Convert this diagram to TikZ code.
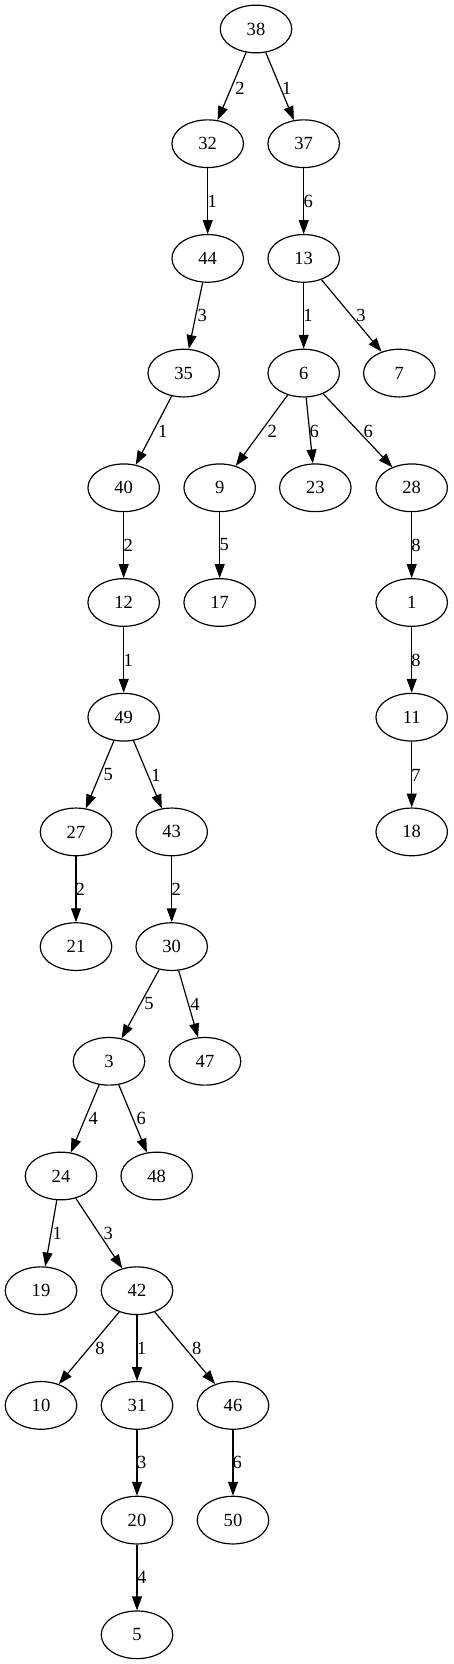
\documentclass[tikz,border=0pt]{standalone}
\usepackage{fontspec}
\setmainfont{Liberation Serif}
\usetikzlibrary{arrows.meta,shapes.geometric}
\begin{document}
\begin{tikzpicture}[x=0.755pt,y=-0.755pt,
  vert/.style={draw,ellipse,line width=0.9pt,minimum width=54pt,minimum height=36pt,inner sep=0pt,font=\fontsize{14}{16}\selectfont},
  wlab/.style={inner sep=0pt,font=\fontsize{14}{16}\selectfont},
  edge/.style={draw,line width=0.9pt,-{Triangle[length=10.5pt,width=7.5pt]}}]
\useasboundingbox (0,0) rectangle (453,1664);
\def\ra{29}\def\rb{143.7}\def\rc{258.4}\def\rd{373.1}\def\re{487.8}
\def\rf{602.5}\def\rg{717.2}\def\rh{831.9}\def\ri{946.6}\def\rj{1061.3}
\def\rk{1176}\def\rl{1290.7}\def\rm{1405.4}\def\rn{1520.1}\def\ro{1634.8}
\node[vert] (n38) at (256,\ra) {38};
\node[vert] (n32) at (207.7,\rb) {32};
\node[vert] (n37) at (303.7,\rb) {37};
\node[vert] (n44) at (207.7,\rc) {44};
\node[vert] (n13) at (303.7,\rc) {13};
\node[vert] (n35) at (183.7,\rd) {35};
\node[vert] (n6) at (303.7,\rd) {6};
\node[vert] (n7) at (399.3,\rd) {7};
\node[vert] (n40) at (123.7,\re) {40};
\node[vert] (n9) at (219.7,\re) {9};
\node[vert] (n23) at (315.3,\re) {23};
\node[vert] (n28) at (411.7,\re) {28};
\node[vert] (n12) at (123.7,\rf) {12};
\node[vert] (n17) at (219.7,\rf) {17};
\node[vert] (n1) at (411.7,\rf) {1};
\node[vert] (n49) at (123.7,\rg) {49};
\node[vert] (n11) at (411.7,\rg) {11};
\node[vert] (n27) at (76,\rh) {27};
\node[vert] (n43) at (171.7,\rh) {43};
\node[vert] (n18) at (411.7,\rh) {18};
\node[vert] (n21) at (76,\ri) {21};
\node[vert] (n30) at (171.7,\ri) {30};
\node[vert] (n3) at (109,\rj) {3};
\node[vert] (n47) at (205,\rj) {47};
\node[vert] (n24) at (61,\rk) {24};
\node[vert] (n48) at (156.7,\rk) {48};
\node[vert] (n19) at (41,\rl) {19};
\node[vert] (n42) at (137,\rl) {42};
\node[vert] (n10) at (41,\rm) {10};
\node[vert] (n31) at (137,\rm) {31};
\node[vert] (n46) at (233,\rm) {46};
\node[vert] (n20) at (137,\rn) {20};
\node[vert] (n50) at (233,\rn) {50};
\node[vert] (n5) at (137,\ro) {5};
% edges
\draw[edge] (n38) -- (n32);
\draw[edge] (n38) -- (n37);
\draw[edge] (n32) -- (n44);
\draw[edge] (n37) -- (n13);
\draw[edge] (n44) -- (n35);
\draw[edge] (n13) -- (n6);
\draw[edge] (n13) -- (n7);
\draw[edge] (n35) -- (n40);
\draw[edge] (n6) -- (n9);
\draw[edge] (n6) -- (n23);
\draw[edge] (n6) -- (n28);
\draw[edge] (n40) -- (n12);
\draw[edge] (n9) -- (n17);
\draw[edge] (n28) -- (n1);
\draw[edge] (n12) -- (n49);
\draw[edge] (n1) -- (n11);
\draw[edge] (n49) -- (n27);
\draw[edge] (n49) -- (n43);
\draw[edge] (n11) -- (n18);
\draw[edge] (n27) -- (n21);
\draw[edge] (n43) -- (n30);
\draw[edge] (n30) -- (n3);
\draw[edge] (n30) -- (n47);
\draw[edge] (n3) -- (n24);
\draw[edge] (n3) -- (n48);
\draw[edge] (n24) -- (n19);
\draw[edge] (n24) -- (n42);
\draw[edge] (n42) -- (n10);
\draw[edge] (n42) -- (n31);
\draw[edge] (n42) -- (n46);
\draw[edge] (n31) -- (n20);
\draw[edge] (n46) -- (n50);
\draw[edge] (n20) -- (n5);
% weights
\node[wlab] (w1) at (240,88) {2};
\node[wlab] (w2) at (286.7,88) {1};
\node[wlab] (w3) at (212.3,201) {1};
\node[wlab] (w4) at (308.3,201) {6};
\node[wlab] (w5) at (202.3,315.7) {3};
\node[wlab] (w6) at (308,315.7) {1};
\node[wlab] (w7) at (361,315.7) {3};
\node[wlab] (w8) at (162.7,431.7) {1};
\node[wlab] (w9) at (272.3,431.7) {2};
\node[wlab] (w10) at (314.3,431.7) {6};
\node[wlab] (w11) at (368.3,431.7) {6};
\node[wlab] (w12) at (128.3,545) {2};
\node[wlab] (w13) at (224.3,545) {5};
\node[wlab] (w14) at (416,545) {8};
\node[wlab] (w15) at (128.3,660) {1};
\node[wlab] (w16) at (416,660) {8};
\node[wlab] (w17) at (108.3,775) {5};
\node[wlab] (w18) at (156,775) {1};
\node[wlab] (w19) at (416,775) {7};
\node[wlab] (w20) at (80.3,889.3) {2};
\node[wlab] (w21) at (176.3,889.3) {2};
\node[wlab] (w22) at (149,1004) {5};
\node[wlab] (w23) at (195,1004) {4};
\node[wlab] (w24) at (93.3,1118.7) {4};
\node[wlab] (w25) at (141.3,1118.7) {6};
\node[wlab] (w26) at (57.3,1233.3) {1};
\node[wlab] (w27) at (108.3,1233.3) {3};
\node[wlab] (w28) at (100,1348.3) {8};
\node[wlab] (w29) at (141.7,1348.3) {1};
\node[wlab] (w30) at (196.7,1348.3) {8};
\node[wlab] (w31) at (141.7,1462.3) {3};
\node[wlab] (w32) at (237.3,1462.3) {6};
\node[wlab] (w33) at (141.7,1577.7) {4};
\end{tikzpicture}
\end{document}
